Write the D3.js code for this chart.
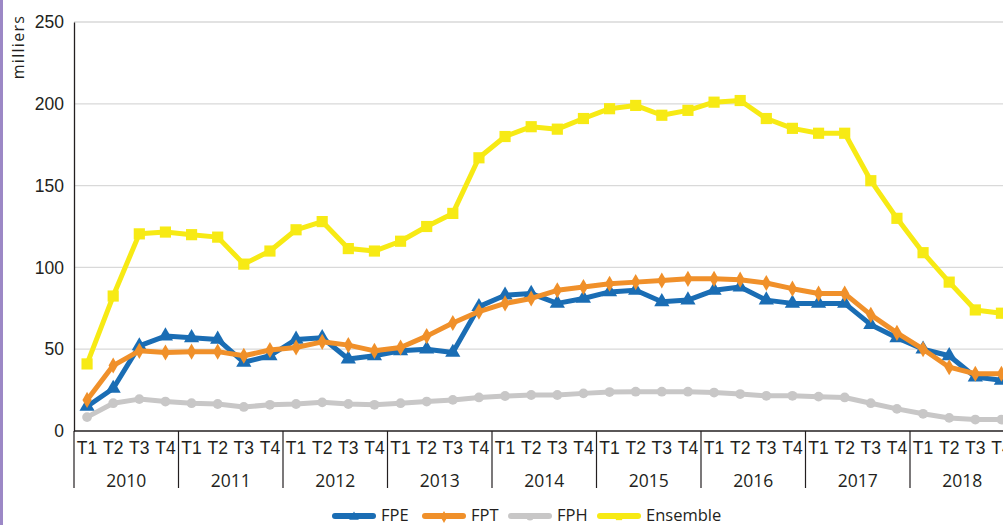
<!DOCTYPE html>
<html>
<head>
<meta charset="utf-8">
<script src="https://cdn.jsdelivr.net/npm/d3@7"></script>
<style>
  body { margin: 0; background: #fff; overflow: hidden; }
  svg { display: block; font-family: "Open Sans", "Noto Sans", sans-serif; }
  .tick text { fill: #231f20; }
</style>
</head>
<body>
<div id="chart"></div>
<script>
// data (milliers)
var years = ["2010", "2011", "2012", "2013", "2014", "2015", "2016", "2017", "2018"];
var quarters = ["T1", "T2", "T3", "T4"];
var fpe = [15, 26, 52, 58, 57, 56, 42, 46, 56, 57, 44, 46,
           49, 50, 48, 76, 83, 84, 78, 81, 85, 86, 79, 80,
           86, 88, 80, 78, 78, 78, 65, 57, 50, 46, 33, 31];
var fpt = [19, 40, 49, 48, 48.5, 48.5, 46, 49.5, 51, 54.5, 52.5, 49,
           51, 58, 66, 73, 78, 81, 86, 88, 90, 91, 92, 93,
           93, 92.5, 90.5, 87, 84, 84, 71, 60, 50, 39, 35, 35];
var fph = [8.5, 17, 19.5, 18, 17, 16.5, 14.7, 16, 16.5, 17.5, 16.5, 16,
           17, 18, 19, 20.5, 21.4, 22, 22, 23, 23.8, 24, 24, 24,
           23.5, 22.6, 21.5, 21.5, 21, 20.5, 17, 13.5, 10.5, 8, 7, 7];
var ensemble = [41, 82.5, 120.5, 121.6, 120, 118.5, 102, 110, 123, 128, 111.5, 110,
                116, 125, 133, 167, 180, 186, 184.5, 191, 197, 199, 193, 196,
                201, 202, 191, 185, 182, 182, 153, 130, 109, 91, 74, 72];
var yTicks = [0, 50, 100, 150, 200, 250];

var series = [
  { name: "FPE", values: fpe, color: "#1a6db4", marker: d3.symbolTriangle, size: 100 },
  { name: "FPT", values: fpt, color: "#f0902a", marker: d3.symbolDiamond, size: 75 },
  { name: "FPH", values: fph, color: "#c8c7c7", marker: d3.symbolCircle, size: 75 },
  { name: "Ensemble", values: ensemble, color: "#f7ea14", marker: d3.symbolSquare, size: 125 }
];

var W = 1003, H = 525;
var margin = { top: 22, left: 74, bottom: 94 };
var plotH = H - margin.top - margin.bottom;
var yearW = 104.5;
var fs = "17.5px";

var svg = d3.select("#chart").append("svg")
    .attr("width", W)
    .attr("height", H);

// purple left edge
svg.append("rect")
    .attr("x", 0).attr("y", 0)
    .attr("width", 3).attr("height", H)
    .attr("fill", "#9c88c6");

var keys = d3.range(years.length * quarters.length);
var x = d3.scaleBand()
    .domain(keys)
    .range([margin.left, margin.left + yearW * years.length])
    .padding(0);
var xYear = d3.scaleBand()
    .domain(years)
    .range([margin.left, margin.left + yearW * years.length])
    .padding(0);
var y = d3.scaleLinear()
    .domain([0, 250])
    .range([margin.top + plotH, margin.top]);

// gridlines
svg.append("g")
    .selectAll("line")
    .data(yTicks.filter(function (d) { return d > 0; }))
    .join("line")
    .attr("x1", margin.left).attr("x2", W)
    .attr("y1", function (d) { return y(d); })
    .attr("y2", function (d) { return y(d); })
    .attr("stroke", "#d9d9d9")
    .attr("stroke-width", 1.3);

// y axis
var gY = svg.append("g")
    .attr("transform", "translate(" + margin.left + ",0)")
    .call(d3.axisLeft(y).tickValues(yTicks).tickSize(0).tickSizeOuter(0).tickPadding(10));
gY.select(".domain").attr("stroke", "#231f20").attr("stroke-width", 1.3);
gY.selectAll(".tick text").style("font-size", fs);

// y axis title
svg.append("text")
    .attr("transform", "translate(24,47) rotate(-90)")
    .attr("text-anchor", "middle")
    .style("font-size", "16px")
    .style("letter-spacing", "1.3px")
    .attr("fill", "#231f20")
    .text("milliers");

// x axis: quarter labels
var gX = svg.append("g")
    .attr("transform", "translate(0," + (margin.top + plotH) + ")")
    .call(d3.axisBottom(x)
        .tickSize(0)
        .tickPadding(11)
        .tickFormat(function (d) { return quarters[d % 4]; }));
gX.select(".domain").remove();
gX.selectAll(".tick text").style("font-size", fs);

svg.append("line")
    .attr("x1", margin.left).attr("x2", W)
    .attr("y1", y(0)).attr("y2", y(0))
    .attr("stroke", "#231f20").attr("stroke-width", 1.3);

// year separators
svg.append("g")
    .selectAll("line")
    .data(years)
    .join("line")
    .attr("x1", function (d) { return xYear(d); })
    .attr("x2", function (d) { return xYear(d); })
    .attr("y1", y(0))
    .attr("y2", y(0) + 57)
    .attr("stroke", "#231f20")
    .attr("stroke-width", 1.2);

// year labels
svg.append("g")
    .selectAll("text")
    .data(years)
    .join("text")
    .attr("x", function (d) { return xYear(d) + xYear.bandwidth() / 2; })
    .attr("y", y(0) + 56)
    .attr("text-anchor", "middle")
    .style("font-size", fs)
    .attr("fill", "#231f20")
    .text(function (d) { return d; });

// lines and markers
var line = d3.line()
    .x(function (d, i) { return x(i) + x.bandwidth() / 2; })
    .y(function (d) { return y(d); });

series.forEach(function (s) {
    var g = svg.append("g");
    g.append("path")
        .datum(s.values)
        .attr("fill", "none")
        .attr("stroke", s.color)
        .attr("stroke-width", 5)
        .attr("stroke-linejoin", "round")
        .attr("d", line);
    g.selectAll("path.mk")
        .data(s.values)
        .join("path")
        .attr("class", "mk")
        .attr("transform", function (d, i) {
            return "translate(" + (x(i) + x.bandwidth() / 2) + "," + y(d) + ")";
        })
        .attr("fill", s.color)
        .attr("d", d3.symbol().type(s.marker).size(s.size));
});

// legend
var legendX = [333, 423, 509, 598];
var legend = svg.append("g");
series.forEach(function (s, i) {
    var lg = legend.append("g").attr("transform", "translate(" + legendX[i] + ",516)");
    lg.append("line")
        .attr("x1", 2).attr("x2", 40)
        .attr("stroke", s.color)
        .attr("stroke-width", 6)
        .attr("stroke-linecap", "round");
    lg.append("path")
        .attr("transform", "translate(21,1)")
        .attr("fill", s.color)
        .attr("d", d3.symbol().type(s.marker).size(40));
    lg.append("text")
        .attr("x", 48)
        .attr("y", 5)
        .style("font-size", "16.5px")
        .attr("fill", "#231f20")
        .text(s.name);
});
</script>
</body>
</html>
